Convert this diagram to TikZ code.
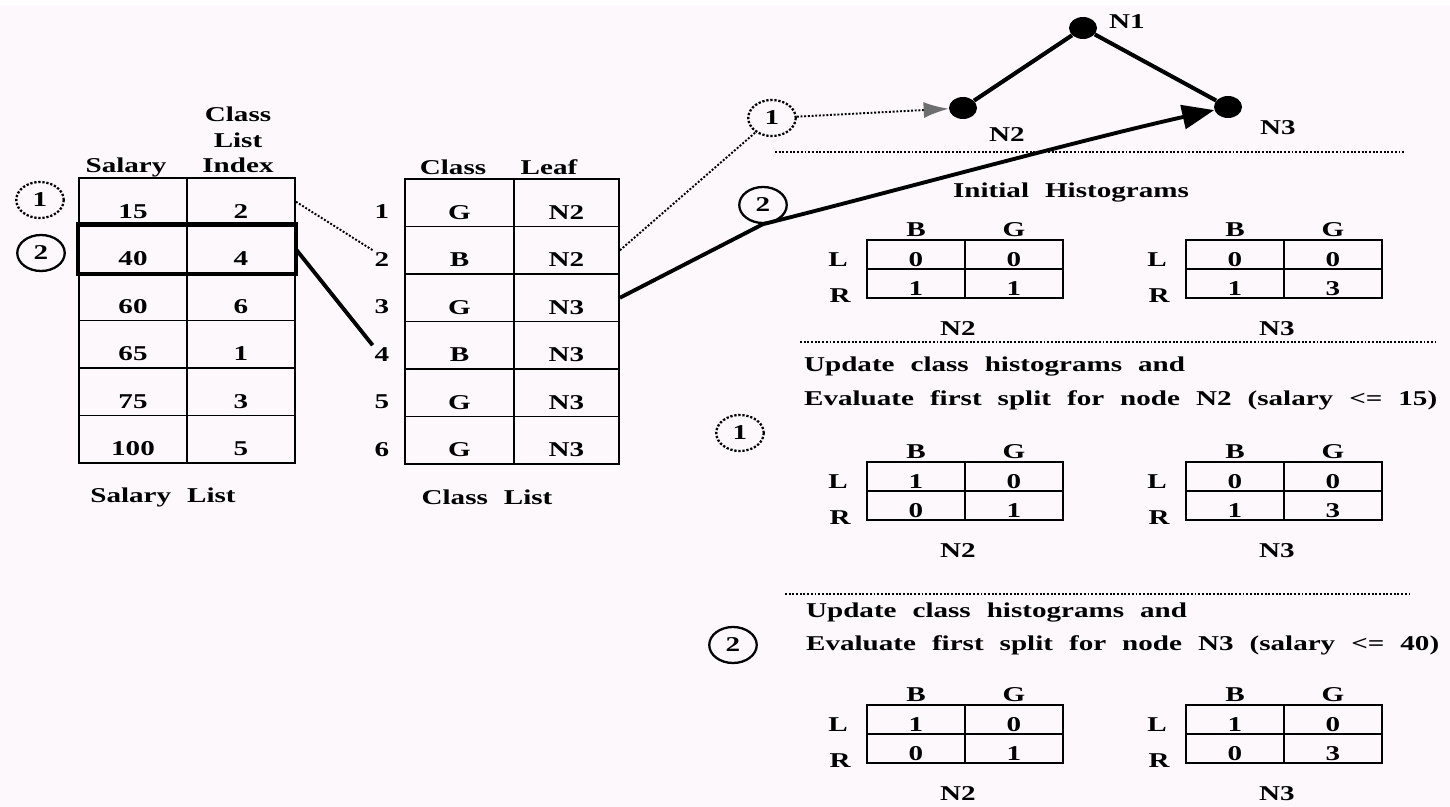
\documentclass[tikz,border=0pt,12pt]{standalone}
\usepackage{fontspec}
\setmainfont[FakeStretch=1.38,WordSpace=2.2]{Liberation Serif}
\usepackage{xcolor}
\usepackage{tikz}
\usetikzlibrary{arrows.meta,positioning,shapes.geometric}
\definecolor{paper}{RGB}{252,248,252}
\definecolor{hatch}{RGB}{110,110,110}
\tikzset{
  cell/.style={draw, line width=1.1pt, minimum height=0.95cm, inner sep=0pt,
    text height=19pt, text depth=0pt, font=\bfseries},
  histcell/.style={draw, line width=1.1pt, minimum width=1.96cm,
    minimum height=0.58cm, inner sep=0pt, text height=14pt, text depth=0pt,
    font=\bfseries},
  lbl/.style={font=\bfseries, inner sep=1pt},
  numring/.style={ellipse, draw, line width=1.3pt, minimum width=0.95cm,
    minimum height=0.72cm, inner sep=0pt, font=\bfseries},
  dotring/.style={numring, densely dotted},
  treedot/.style={ellipse, fill=black, minimum width=0.56cm,
    minimum height=0.44cm, inner sep=0pt},
  treeedge/.style={line width=2.3pt},
  dotlink/.style={densely dotted, line width=1.1pt},
  boldlink/.style={line width=2.2pt},
  sepline/.style={densely dotted, line width=1.1pt},
}

\begin{document}
\begin{tikzpicture}[x=0.02cm, y=-0.02cm]
  \useasboundingbox (0,0) rectangle (1450,807);
  \fill[paper] (0,5) rectangle (1450,807);

  % salary list
  \foreach \i/\sal/\idx in {1/15/2,2/40/4,3/60/6,4/65/1,5/75/3,6/100/5} {
    \node[cell, minimum width=2.16cm] (sal-\i) at (133,154.25+47.5*\i) {\sal};
    \node[cell, minimum width=2.16cm] (idx-\i) at (241,154.25+47.5*\i) {\idx};
  }
  \draw[line width=2.4pt] (sal-2.north west) rectangle (idx-2.south east);
  \node[lbl] (sal-head) at (126,167) {Salary};
  \node[lbl, align=center] (idx-head) at (238,140) {Class\\List\\Index};
  \node[lbl] (sal-name) at (163,497) {Salary List};

  % class list
  \foreach \i/\cls/\leaf in {1/G/N2,2/B/N2,3/G/N3,4/B/N3,5/G/N3,6/G/N3} {
    \node[lbl] (row-\i) at (382,164.25+47.5*\i) {\i};
    \node[cell, minimum width=2.18cm] (cls-\i) at (459.5,155.25+47.5*\i) {\cls};
    \node[cell, minimum width=2.10cm] (leaf-\i) at (566.5,155.25+47.5*\i) {\leaf};
  }
  \node[lbl] (cls-head) at (453,167) {Class};
  \node[lbl] (leaf-head) at (549,167) {Leaf};
  \node[lbl] (cls-name) at (487,497) {Class List};

  \node[dotring] (ring-a1) at (40,200) {1};
  \node[numring] (ring-a2) at (41,253) {2};
  \draw[dotlink] (idx-1.east) -- (row-2.north west);
  \draw[boldlink] (idx-2.east) -- (row-4.north west);

  % tree
  \node[treedot] (n1) at (1083,28) {};
  \node[treedot] (n2) at (963,108) {};
  \node[treedot] (n3) at (1228,107) {};
  \node[lbl] (n1-name) at (1127,22) {N1};
  \node[lbl] (n2-name) at (1007,135) {N2};
  \node[lbl] (n3-name) at (1278,128) {N3};
  \draw[treeedge] (n1) -- (n2);
  \draw[treeedge] (n1) -- (n3);

  \node[dotring] (ring-b1) at (772,118) {1};
  \node[numring] (ring-b2) at (763,205) {2};
  \draw[dotlink] (leaf-2.east) -- (ring-b1);
  \draw[dotlink, -{Latex[length=0.5cm,width=0.32cm,fill=hatch,color=hatch]}]
    (ring-b1) -- (n2);
  \draw[boldlink, -{Triangle[length=0.64cm,width=0.48cm]}]
    (leaf-3.east) -- (ring-b2.south) .. controls (880,195) and (1080,140) .. (n3);

  % histogram panels
  \draw[sepline] (775,152) -- (1405,152);
  \draw[sepline] (800,342) -- (1435,342);
  \draw[sepline] (785,594) -- (1410,594);
  \node[lbl] (init-title) at (1071,193) {Initial Histograms};
  \node[lbl, anchor=west] (upd-a) at (802,367) {Update class histograms and};
  \node[lbl, anchor=west] (eval-a) at (802,400)
    {Evaluate first split for node N2 (salary <= 15)};
  \node[dotring] (ring-c1) at (740,433) {1};
  \node[lbl, anchor=west] (upd-b) at (804,613) {Update class histograms and};
  \node[lbl, anchor=west] (eval-b) at (804,645)
    {Evaluate first split for node N3 (salary <= 40)};
  \node[numring] (ring-c2) at (733,645) {2};

  \foreach \hid/\hx/\hy/\hlb/\hlg/\hrb/\hrg/\hname in {
      ia/867/240/0/0/1/1/N2, ib/1186/240/0/0/1/3/N3,
      ua/867/462/1/0/0/1/N2, ub/1186/462/0/0/1/3/N3,
      va/867/705/1/0/0/1/N2, vb/1186/705/1/0/0/3/N3} {
    \node[histcell] (\hid-lb) at (\hx+49,\hy+14.5) {\hlb};
    \node[histcell] (\hid-lg) at (\hx+147,\hy+14.5) {\hlg};
    \node[histcell] (\hid-rb) at (\hx+49,\hy+43.5) {\hrb};
    \node[histcell] (\hid-rg) at (\hx+147,\hy+43.5) {\hrg};
    \node[lbl] (\hid-B) at (\hx+49,\hy-10) {B};
    \node[lbl] (\hid-G) at (\hx+147,\hy-10) {G};
    \node[lbl] (\hid-L) at (\hx-29,\hy+20) {L};
    \node[lbl] (\hid-R) at (\hx-27,\hy+56) {R};
    \node[lbl] (\hid-name) at (\hx+91,\hy+89) {\hname};
  }
\end{tikzpicture}
\end{document}
